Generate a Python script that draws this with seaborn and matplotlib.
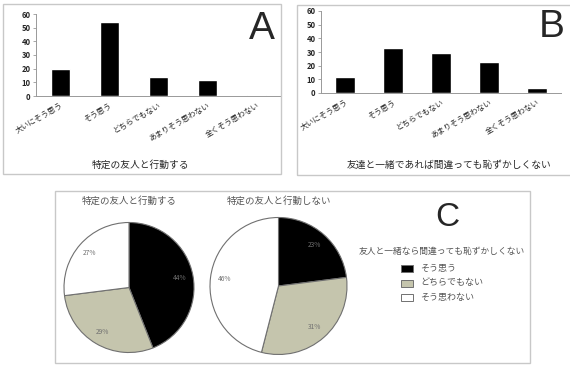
import matplotlib
matplotlib.use("Agg")
import matplotlib.pyplot as plt
import seaborn as sns
import pandas as pd
from matplotlib.patches import Rectangle

sns.set_theme(style="white")
plt.rcParams['font.family'] = ['Noto Sans CJK JP', 'DejaVu Sans']

# ---- data ----
categories = ["大いにそう思う", "そう思う", "どちらでもない", "あまりそう思わない", "全くそう思わない"]
values_a = [20, 54, 14, 12, 0.7]
values_b = [12, 33, 29, 23, 4]
title_a = "特定の友人と行動する"
title_b = "友達と一緒であれば間違っても恥ずかしくない"
yticks = [0, 10, 20, 30, 40, 50, 60]

pie_labels = ["そう思う", "どちらでもない", "そう思わない"]
pie1_values = [44, 29, 27]
pie2_values = [23, 31, 46]
pie1_title = "特定の友人と行動する"
pie2_title = "特定の友人と行動しない"
legend_title = "友人と一緒なら間違っても恥ずかしくない"
pie_colors = ["#000000", "#C5C5AD", "#FFFFFF"]

W, H = 570, 366
fig = plt.figure(figsize=(W / 100, H / 100), dpi=100)


def px_axes(left, top, right, bottom):
    return fig.add_axes([left / W, 1 - bottom / H, (right - left) / W, (bottom - top) / H])


def box(left, top, right, bottom):
    fig.patches.append(Rectangle((left / W, 1 - bottom / H), (right - left) / W, (bottom - top) / H,
                                 transform=fig.transFigure, fill=False, edgecolor="#c8c8c8", lw=1.0))


def bar_panel(ax, vals):
    df = pd.DataFrame({"cat": categories, "val": vals})
    sns.barplot(data=df, x="cat", y="val", color="black", width=0.4, ax=ax, saturation=1)
    ax.set_xlim(-0.5, 4.5)
    ax.set_ylim(0, 60)
    ax.set_yticks(yticks)
    ax.set_yticklabels([str(t) for t in yticks], fontsize=5.5, fontweight="bold")
    ax.set_xticks(range(len(categories)))
    ax.set_xticklabels(categories, rotation=30, ha="right", rotation_mode="anchor", fontsize=5.5)
    ax.tick_params(axis="x", length=0, pad=4)
    ax.tick_params(axis="y", length=2, pad=2, left=True, width=0.6, color="#999999")
    ax.set_xlabel("")
    ax.set_ylabel("")
    for s in ["top", "right"]:
        ax.spines[s].set_visible(False)
    for s in ["left", "bottom"]:
        ax.spines[s].set_color("#999999")
        ax.spines[s].set_linewidth(0.7)
    ax.set_facecolor("none")


# Panel A
box(3, 4, 281, 174)
axA = px_axes(36, 14, 281, 96)
bar_panel(axA, values_a)
fig.text(140 / W, 1 - 165 / H, title_a, ha="center", va="center", fontsize=7)
fig.text(262 / W, 1 - 29 / H, "A", ha="center", va="center", fontsize=28,
         family=["Liberation Sans", "DejaVu Sans"])

# Panel B
box(297, 5, 572, 175)
axB = px_axes(321, 11, 561, 93)
bar_panel(axB, values_b)
fig.text(449 / W, 1 - 165 / H, title_b, ha="center", va="center", fontsize=7)
fig.text(552 / W, 1 - 27 / H, "B", ha="center", va="center", fontsize=28,
         family=["Liberation Sans", "DejaVu Sans"])

# Panel C
box(55, 191, 530, 363)


def pie_panel(cx, cy, r, vals, title):
    ax = px_axes(cx - r, cy - r, cx + r, cy + r)
    ax.pie(vals, colors=pie_colors, startangle=90, counterclock=False,
           autopct=lambda p: f"{round(p)}%", pctdistance=0.8,
           wedgeprops=dict(edgecolor="#707070", linewidth=0.8),
           textprops=dict(fontsize=4.8, color="#707070"))
    ax.set_xlim(-1, 1)
    ax.set_ylim(-1, 1)
    ax.set_aspect("equal")
    fig.text(cx / W, 1 - 201 / H, title, ha="center", va="center", fontsize=6.8, color="#555555")
    return ax


pie_panel(129, 287.5, 65, pie1_values, pie1_title)
pie_panel(278.5, 286, 68.5, pie2_values, pie2_title)

fig.text(447 / W, 1 - 217 / H, "C", ha="center", va="center", fontsize=24,
         family=["Liberation Sans", "DejaVu Sans"])
fig.text(442 / W, 1 - 251 / H, legend_title, ha="center", va="center", fontsize=6.3, color="#555555")
for i, lab in enumerate(pie_labels):
    y = [268, 283, 297][i]
    fig.patches.append(Rectangle((401 / W, 1 - (y + 3.5) / H), 12 / W, 7 / H, transform=fig.transFigure,
                                 facecolor=pie_colors[i], edgecolor="#707070", lw=0.7))
    fig.text(420 / W, 1 - y / H, lab, ha="left", va="center", fontsize=6.5, color="#555555")

fig.savefig("out.png", dpi=100)
